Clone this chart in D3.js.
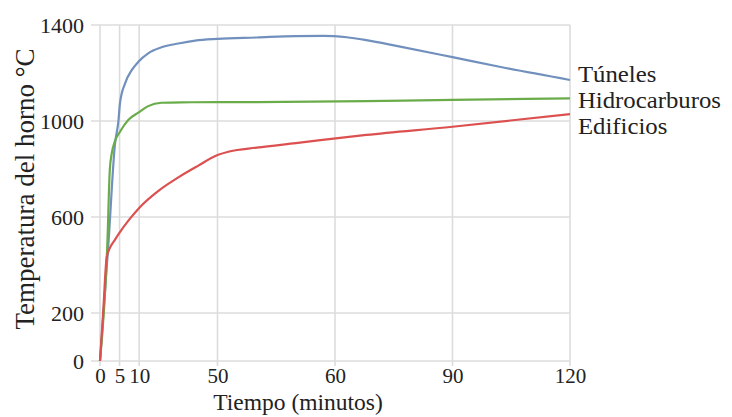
<!DOCTYPE html>
<html><head><meta charset="utf-8">
<script src="https://cdn.jsdelivr.net/npm/d3@7"></script>
<style>body{margin:0;background:#fff}svg{display:block}text{font-family:"Liberation Serif","Times New Roman",serif;fill:#222}</style>
</head><body><svg id="c" width="732" height="417"></svg>
<script>
// Data (minutes, °C)
const tunelesT = [0, 2.2, 3.8, 4.7, 5.1, 6.4, 8.1, 9.8, 12.3, 15.7, 20, 24.3, 30, 40, 50, 57, 63, 68, 76, 90, 102, 120];
const tunelesV = [0, 500, 900, 1000, 1074, 1157, 1212, 1247, 1282, 1307, 1323, 1335, 1342, 1348, 1354, 1355, 1349, 1337, 1312, 1266, 1226, 1171];
const hidroT = [0, 1.9, 2.5, 3, 3.8, 5.1, 7.2, 9.8, 12.3, 15.7, 20.9, 40, 68, 90, 120];
const hidroV = [0, 500, 796, 865, 915, 955, 1004, 1035, 1062, 1076, 1078, 1079, 1083, 1088, 1094];
const edifT = [0, 0.8, 1.7, 2.5, 3.8, 5, 7.5, 10, 15, 20, 25, 30, 33, 40, 50, 68, 90, 120];
const edifV = [0, 200, 430, 470, 505, 535, 590, 638, 710, 765, 813, 858, 873, 889, 908, 942, 976, 1029];
const seriesNames = ["Túneles", "Hidrocarburos", "Edificios"];
const seriesColors = ["#7190bd", "#6aac4a", "#dc5050"];
const xTickValues = [0, 5, 10, 30, 60, 90, 120];
const xTickLabels = ["0", "5", "10", "50", "60", "90", "120"];
const yTickValues = [0, 200, 600, 1000, 1400];
const yTickLabels = ["0", "200", "600", "1000", "1400"];
const xTitle = "Tiempo (minutos)";
const yTitle = "Temperatura del horno °C";

const svg = d3.select("#c");
const x = d3.scaleLinear().domain([0, 120]).range([100, 570]);
const y = d3.scaleLinear().domain([0, 1400]).range([361, 25]);

// grid
const g = svg.append("g");
g.selectAll(".hg").data(yTickValues).join("line")
  .attr("x1", 91).attr("x2", x(120)).attr("y1", d => y(d)).attr("y2", d => y(d))
  .attr("stroke", "#dcdcdc").attr("stroke-width", 1.6);
g.selectAll(".vg").data(xTickValues).join("line")
  .attr("x1", d => x(d)).attr("x2", d => x(d)).attr("y1", y(1400)).attr("y2", 366)
  .attr("stroke", "#dcdcdc").attr("stroke-width", 1.6);

// axes labels via d3 axes
const xAxis = d3.axisBottom(x).tickValues(xTickValues).tickSize(0).tickPadding(0)
  .tickFormat((d, i) => xTickLabels[i]);
const xa = svg.append("g").attr("transform", "translate(0,368)").call(xAxis);
xa.select(".domain").remove();
xa.selectAll("text").attr("font-size", 21).attr("dy", "0.71em").attr("fill", "#222")
  .style("font-family", '"Liberation Serif", serif');

const yAxis = d3.axisLeft(y).tickValues(yTickValues).tickSize(0).tickPadding(0)
  .tickFormat((d, i) => yTickLabels[i]);
const ya = svg.append("g").attr("transform", "translate(84,0)").call(yAxis);
ya.select(".domain").remove();
ya.selectAll("text").attr("font-size", 22).attr("fill", "#222")
  .style("font-family", '"Liberation Serif", serif');

// lines
const line = d3.line().x(d => x(d[0])).y(d => y(d[1])).curve(d3.curveMonotoneX);
const data = [
  d3.zip(tunelesT, tunelesV),
  d3.zip(hidroT, hidroV),
  d3.zip(edifT, edifV)
];
svg.selectAll(".ln").data(data).join("path")
  .attr("d", line).attr("fill", "none")
  .attr("stroke", (d, i) => seriesColors[i]).attr("stroke-width", 2.2);

// series labels
const labY = [82, 108, 134];
svg.selectAll(".lab").data(seriesNames).join("text")
  .attr("transform", (d, i) => `translate(578,${labY[i]}) scale(1.1,1)`)
  .attr("font-size", 22.5).text(d => d);

// titles
svg.append("text").attr("x", 298).attr("y", 410).attr("text-anchor", "middle")
  .attr("font-size", 23.5).text(xTitle);
svg.append("text").attr("transform", "translate(34,189) rotate(-90)")
  .attr("text-anchor", "middle").attr("font-size", 27).text(yTitle);
</script></body></html>
